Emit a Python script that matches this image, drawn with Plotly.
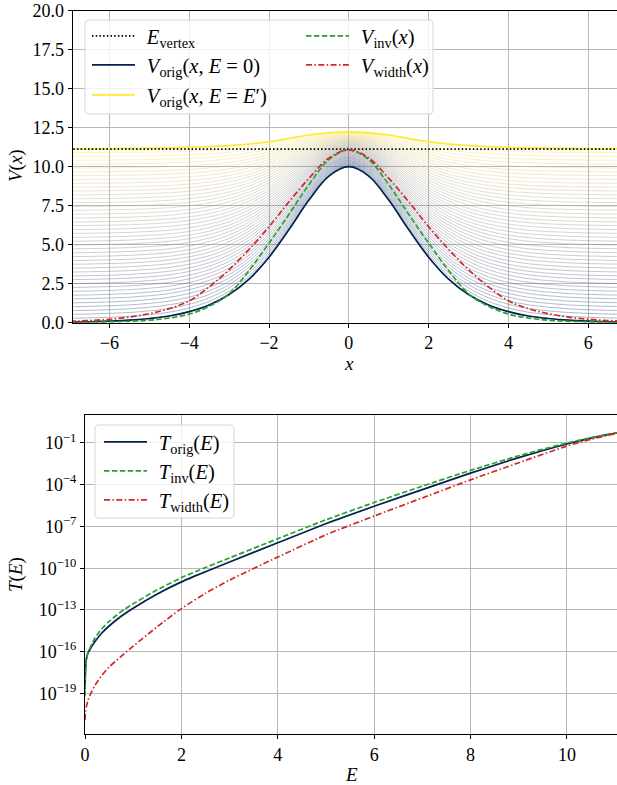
import plotly.graph_objects as go
from plotly.colors import sample_colorscale

W, H = 617, 785
FONT = "Liberation Serif"

# ---------------- top panel data ----------------
X_V = [-7.0, -6.5, -6.0, -5.5, -5.0, -4.5, -4.0, -3.5, -3.0, -2.5, -2.0, -1.5, -1.0, -0.5, 0.0,
       0.5, 1.0, 1.5, 2.0, 2.5, 3.0, 3.5, 4.0, 4.5, 5.0, 5.5, 6.0, 6.5, 7.0]
V_ORIG_E0 = [0.036, 0.06, 0.10, 0.16, 0.27, 0.43, 0.71, 1.14, 1.81, 2.80, 4.20, 5.97, 7.86, 9.40, 10.0,
             9.40, 7.86, 5.97, 4.20, 2.80, 1.81, 1.14, 0.71, 0.43, 0.27, 0.16, 0.10, 0.06, 0.036]
V_ORIG_EP = [11.15, 11.16, 11.16, 11.17, 11.19, 11.21, 11.24, 11.28, 11.35, 11.45, 11.59, 11.80, 12.03, 12.17, 12.23,
             12.17, 12.03, 11.80, 11.59, 11.45, 11.35, 11.28, 11.24, 11.21, 11.19, 11.17, 11.16, 11.16, 11.15]
V_INV = [0.02, 0.03, 0.05, 0.09, 0.16, 0.30, 0.55, 1.05, 1.85, 3.35, 5.10, 6.95, 8.85, 10.45, 11.08,
         10.45, 8.85, 6.95, 5.10, 3.35, 1.85, 1.05, 0.55, 0.30, 0.16, 0.09, 0.05, 0.03, 0.02]
V_WIDTH = [0.09, 0.14, 0.22, 0.36, 0.58, 0.90, 1.40, 2.30, 3.40, 4.70, 6.15, 7.75, 9.25, 10.55, 11.08,
           10.55, 9.25, 7.75, 6.15, 4.70, 3.40, 2.30, 1.40, 0.90, 0.58, 0.36, 0.22, 0.14, 0.09]
E_VERTEX = 11.13

FAMILY_TAIL = [0.00, 0.25, 0.50, 0.74, 0.99, 1.24, 1.49, 1.73, 1.98, 2.23, 2.48, 2.73, 2.97, 3.22, 3.47,
               3.72, 3.96, 4.21, 4.46, 4.71, 4.96, 5.20, 5.45, 5.70, 5.95, 6.20, 6.44, 6.69, 6.94, 7.19,
               7.43, 7.68, 7.93, 8.18, 8.43, 8.67, 8.92, 9.17, 9.42, 9.66, 9.91, 10.16, 10.41, 10.66,
               10.90, 11.15]
FAMILY_PEAK = [10.00, 10.05, 10.10, 10.15, 10.20, 10.25, 10.30, 10.35, 10.40, 10.45, 10.50, 10.55, 10.59,
               10.64, 10.69, 10.74, 10.79, 10.84, 10.89, 10.94, 10.99, 11.04, 11.09, 11.14, 11.19, 11.24,
               11.29, 11.34, 11.39, 11.44, 11.49, 11.54, 11.59, 11.64, 11.69, 11.73, 11.78, 11.83, 11.88,
               11.93, 11.98, 12.03, 12.08, 12.13, 12.18, 12.23]

X_TICKS = [-6, -4, -2, 0, 2, 4, 6]
X_TICK_TEXT = ["\u22126", "\u22124", "\u22122", "0", "2", "4", "6"]
V_TICKS = [0, 2.5, 5, 7.5, 10, 12.5, 15, 17.5, 20]
V_TICK_TEXT = ["0.0", "2.5", "5.0", "7.5", "10.0", "12.5", "15.0", "17.5", "20.0"]

# ---------------- bottom panel data ----------------
E_T = [0.0, 0.01, 0.03, 0.06, 0.1, 0.2, 0.35, 0.5, 0.75, 1.0, 1.5, 2.0, 2.5, 3.0, 4.0, 5.0, 6.0, 7.0,
       8.0, 9.0, 10.0, 10.5, 11.04]
LOG_T_ORIG = [-18.7, -17.3, -16.5, -16.1, -15.85, -15.3, -14.65, -14.15, -13.45, -12.87, -11.85, -10.98,
              -10.25, -9.55, -8.17, -6.8, -5.55, -4.35, -3.17, -2.05, -1.07, -0.65, -0.28]
LOG_T_INV = [-19.2, -17.5, -16.55, -16.05, -15.75, -15.05, -14.35, -13.82, -13.12, -12.55, -11.55, -10.68,
             -9.95, -9.26, -7.88, -6.52, -5.28, -4.1, -2.97, -1.92, -1.0, -0.62, -0.27]
LOG_T_WIDTH = [-20.9, -20.3, -19.9, -19.5, -19.15, -18.45, -17.7, -17.1, -16.33, -15.6, -14.2, -12.9,
               -11.8, -10.85, -9.2, -7.6, -6.25, -4.95, -3.65, -2.42, -1.22, -0.73, -0.3]
E_TICKS = [0, 2, 4, 6, 8, 10]
T_TICK_EXP = [-1, -4, -7, -10, -13, -16, -19]

NAVY = "#00224e"
YELLOW = "#fee838"
GREEN = "#2ca02c"
RED = "#d62728"
DASH_G = "5.5px,2.4px"
DASH_R = "6px,2.4px,1.5px,2.4px"
DOT = "1.5px,2.2px"
LW = 1.7
SP = "\u2004"

fig = go.Figure()

# family of potentials
cols = sample_colorscale("Cividis", [k / (len(FAMILY_TAIL) - 1) for k in range(len(FAMILY_TAIL))])
for tail, peak, c in zip(FAMILY_TAIL, FAMILY_PEAK, cols):
    ys = [tail + (peak - tail) * v / V_ORIG_E0[14] for v in V_ORIG_E0]
    fig.add_trace(go.Scatter(x=X_V, y=ys, mode="lines", line=dict(color=c, width=1, shape="spline"),
                             opacity=0.32, showlegend=False, hoverinfo="skip", xaxis="x", yaxis="y"))

fig.add_trace(go.Scatter(x=X_V, y=V_ORIG_E0, mode="lines", line=dict(color=NAVY, width=LW, shape="spline"),
                         name=SP + "<i>V</i><sub>orig</sub>(<i>x</i>, <i>E</i> = 0)", legend="legend2"))
fig.add_trace(go.Scatter(x=X_V, y=V_ORIG_EP, mode="lines", line=dict(color=YELLOW, width=LW, shape="spline"),
                         name=SP + "<i>V</i><sub>orig</sub>(<i>x</i>, <i>E</i> = <i>E</i>\u2032)", legend="legend3"))
fig.add_trace(go.Scatter(x=[X_V[0], X_V[-1]], y=[E_VERTEX, E_VERTEX], mode="lines",
                         line=dict(color="black", width=LW, dash=DOT),
                         name=SP + "<i>E</i><sub>vertex</sub>", legend="legend"))
fig.add_trace(go.Scatter(x=X_V, y=V_INV, mode="lines", line=dict(color=GREEN, width=LW, dash=DASH_G, shape="spline"),
                         name=SP + "<i>V</i><sub>inv</sub>(<i>x</i>)", legend="legend4"))
fig.add_trace(go.Scatter(x=X_V, y=V_WIDTH, mode="lines", line=dict(color=RED, width=LW, dash=DASH_R, shape="spline"),
                         name=SP + "<i>V</i><sub>width</sub>(<i>x</i>)", legend="legend5"))

# bottom panel
for ys, col, dash, nm, lg in [
    (LOG_T_ORIG, NAVY, "solid", "<i>T</i><sub>orig</sub>(<i>E</i>)", "legend6"),
    (LOG_T_INV, GREEN, DASH_G, "<i>T</i><sub>inv</sub>(<i>E</i>)", "legend7"),
    (LOG_T_WIDTH, RED, DASH_R, "<i>T</i><sub>width</sub>(<i>E</i>)", "legend8"),
]:
    fig.add_trace(go.Scatter(x=E_T, y=[10 ** v for v in ys], mode="lines",
                             line=dict(color=col, width=LW, dash=dash, shape="spline", smoothing=0.6),
                             name=SP + nm, legend=lg, xaxis="x2", yaxis="y2"))

def fx(p):
    return p / W

def fy(p):
    return 1 - p / H

TOP, BOT, LEFT = 10.7, 322.7, 72.7
TOP2, BOT2, LEFT2 = 415, 734, 85

tickfont = dict(family=FONT, size=18, color="black")
axis_common = dict(showline=True, linecolor="black", linewidth=1, ticks="outside", ticklen=4,
                   tickcolor="black", tickwidth=1, showgrid=True, gridcolor="#b8b8b8", gridwidth=1,
                   zeroline=False, tickfont=tickfont, automargin=False)

layout = dict(
    width=W, height=H, margin=dict(l=0, r=0, t=0, b=0, autoexpand=False),
    font=dict(family=FONT, size=18, color="black"),
    paper_bgcolor="white", plot_bgcolor="white", showlegend=True,
    xaxis=dict(domain=[fx(LEFT), 1], range=[-6.92, 6.72], tickvals=X_TICKS, ticktext=X_TICK_TEXT,
               anchor="y", mirror=True, **axis_common),
    yaxis=dict(domain=[fy(BOT), fy(TOP)], range=[0, 20], tickvals=V_TICKS, ticktext=V_TICK_TEXT,
               anchor="x", **axis_common),
    xaxis2=dict(domain=[fx(LEFT2), 1], range=[0, 11.04], tickvals=E_TICKS, anchor="y2", mirror=True,
                **axis_common),
    yaxis2=dict(domain=[fy(BOT2), fy(TOP2)], type="log", range=[-21.91, 1.01],
                tickvals=[10 ** e for e in T_TICK_EXP],
                ticktext=["10<sup>\u2212%d</sup>" % (-e) for e in T_TICK_EXP], anchor="x2",
                **axis_common),
)

legfont = dict(family=FONT, size=20.5, color="black")
def leg(line_x0, yp):
    return dict(x=fx(line_x0 - 3), y=fy(yp), xanchor="left", yanchor="middle", bgcolor="rgba(0,0,0,0)",
                borderwidth=0, font=legfont, itemwidth=43, orientation="v")

layout["legend"] = leg(90, 36)
layout["legend2"] = leg(90, 65)
layout["legend3"] = leg(90, 95)
layout["legend4"] = leg(304, 36)
layout["legend5"] = leg(304, 65)
layout["legend6"] = leg(102, 442)
layout["legend7"] = leg(102, 471)
layout["legend8"] = leg(102, 500)

def rbox(x0, y0, x1, y1, r=4):
    X0, X1 = fx(x0), fx(x1)
    Y0, Y1 = fy(y0), fy(y1)
    rx, ry = r / W, r / H
    return ("M %f,%f L %f,%f Q %f,%f %f,%f L %f,%f Q %f,%f %f,%f L %f,%f Q %f,%f %f,%f L %f,%f Q %f,%f %f,%f Z" % (
        X0 + rx, Y0, X1 - rx, Y0, X1, Y0, X1, Y0 - ry, X1, Y1 + ry, X1, Y1, X1 - rx, Y1,
        X0 + rx, Y1, X0, Y1, X0, Y1 + ry, X0, Y0 - ry, X0, Y0, X0 + rx, Y0))

layout["shapes"] = [
    dict(type="path", path=rbox(85, 20, 433, 114), xref="paper", yref="paper", layer="above",
         fillcolor="rgba(255,255,255,0.8)", line=dict(color="#d6d6d6", width=1)),
    dict(type="path", path=rbox(95, 425, 234, 518), xref="paper", yref="paper", layer="above",
         fillcolor="rgba(255,255,255,0.8)", line=dict(color="#d6d6d6", width=1)),
]

labfont = dict(family=FONT, size=19, color="black")
layout["annotations"] = [
    dict(text="<i>V</i>(<i>x</i>)", x=fx(16), y=fy(166), xref="paper", yref="paper", showarrow=False,
         textangle=-90, font=labfont, xanchor="center", yanchor="middle"),
    dict(text="<i>x</i>", x=fx(349), y=fy(363), xref="paper", yref="paper", showarrow=False,
         font=labfont, xanchor="center", yanchor="middle"),
    dict(text="<i>T</i>(<i>E</i>)", x=fx(16), y=fy(575), xref="paper", yref="paper", showarrow=False,
         textangle=-90, font=labfont, xanchor="center", yanchor="middle"),
    dict(text="<i>E</i>", x=fx(351), y=fy(774), xref="paper", yref="paper", showarrow=False,
         font=labfont, xanchor="center", yanchor="middle"),
]

fig.update_layout(**layout)
fig.write_html("out.html", config={"displayModeBar": False},
               post_script="document.body.style.margin='0';document.body.style.overflow='hidden';")
